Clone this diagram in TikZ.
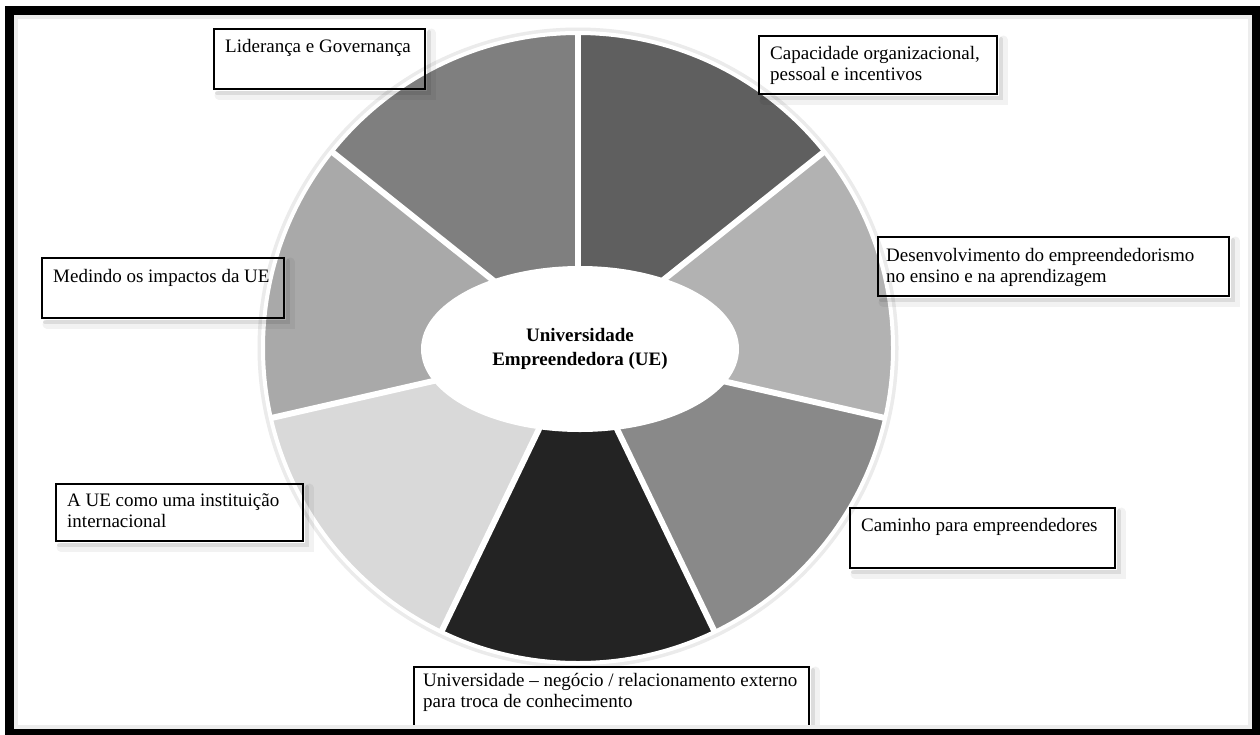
\documentclass[tikz,border=0pt]{standalone}
\usepackage{fontspec}
\setmainfont{Liberation Serif}
\usetikzlibrary{shapes.geometric,calc}

% segment shades, clockwise from the top
\definecolor{segCap}{HTML}{5F5F5F}
\definecolor{segDes}{HTML}{B2B2B2}
\definecolor{segCam}{HTML}{898989}
\definecolor{segNeg}{HTML}{232323}
\definecolor{segInt}{HTML}{D9D9D9}
\definecolor{segMed}{HTML}{A9A9A9}
\definecolor{segLid}{HTML}{7F7F7F}

\begin{document}
\begin{tikzpicture}[x=1pt,y=-1pt,
  labelbox/.style={draw=black, line width=2pt, inner sep=0pt, anchor=north west},
  lbl/.style={anchor=north west, inner sep=0pt, align=left,
              font=\fontsize{19}{21.5}\selectfont},
  boxshadeA/.style={black, line width=9pt, opacity=0.05, line cap=round},
  boxshadeB/.style={black, line width=4pt, opacity=0.09, line cap=round},
  gap/.style={white, line width=6pt}]
\useasboundingbox (0,0) rectangle (1260,734);
\fill[white] (0,0) rectangle (1260,734);

% ---- the wheel ----
\coordinate (c) at (578,348);
\draw[black!8, line width=5pt] (c) circle[radius=318];
\foreach \k/\col in {0/segCap,1/segDes,2/segCam,3/segNeg,4/segInt,5/segMed,6/segLid}{
  \fill[\col] (c) -- ++({-90+\k*360/7}:314)
    arc[start angle={-90+\k*360/7}, end angle={-90+(\k+1)*360/7}, radius=314] -- cycle;
}
\foreach \k in {0,...,6}{
  \draw[gap] (c) -- ++({-90+\k*360/7}:316);
}
\draw[white, line width=4pt] (c) circle[radius=315];

\node[ellipse, fill=white, minimum width=318pt, minimum height=166pt, inner sep=0pt,
      align=center, font=\bfseries\fontsize{19}{24}\selectfont]
  (ue) at (580,349) {Universidade\\Empreendedora (UE)};

% ---- label boxes ----
\node[labelbox, minimum width=211pt, minimum height=60pt] (b1) at (213,28) {};
\node[labelbox, minimum width=238pt, minimum height=58pt] (b2) at (758,35) {};
\node[labelbox, minimum width=351pt, minimum height=59pt] (b3) at (877,236) {};
\node[labelbox, minimum width=242pt, minimum height=60pt] (b4) at (41,257) {};
\node[labelbox, minimum width=247pt, minimum height=57pt] (b5) at (55,483) {};
\node[labelbox, minimum width=265pt, minimum height=60pt] (b6) at (849,507) {};
\node[labelbox, minimum width=395pt, minimum height=70pt] (b7) at (413,666) {};

\foreach \b in {b1,b2,b3,b4,b5,b6,b7}{
  \draw[boxshadeA] ([shift={(5,5)}]\b.north east) -- ([shift={(5,5)}]\b.south east)
                   -- ([shift={(6,5)}]\b.south west);
  \draw[boxshadeB] ([shift={(3,4)}]\b.north east) -- ([shift={(3,3)}]\b.south east)
                   -- ([shift={(4,3)}]\b.south west);
}

\node[lbl] (t1) at (225,39) {Liderança e Governança};
\node[lbl] (t2) at (770,46) {Capacidade organizacional,\\pessoal e incentivos};
\node[lbl] (t3) at (886,248) {Desenvolvimento do empreendedorismo\\no ensino e na aprendizagem};
\node[lbl] (t4) at (53,269) {Medindo os impactos da UE};
\node[lbl] (t5) at (67,493) {A UE como uma instituição\\internacional};
\node[lbl] (t6) at (861,518) {Caminho para empreendedores};
\node[lbl] (t7) at (423,673) {Universidade – negócio / relacionamento externo\\para troca de conhecimento};

% ---- outer frame ----
\draw[black!7, line width=4pt] (16,17) rectangle (1250,727);
\draw[black, line width=9pt] (9.5,10) rectangle (1256.5,733.5);
\end{tikzpicture}
\end{document}
